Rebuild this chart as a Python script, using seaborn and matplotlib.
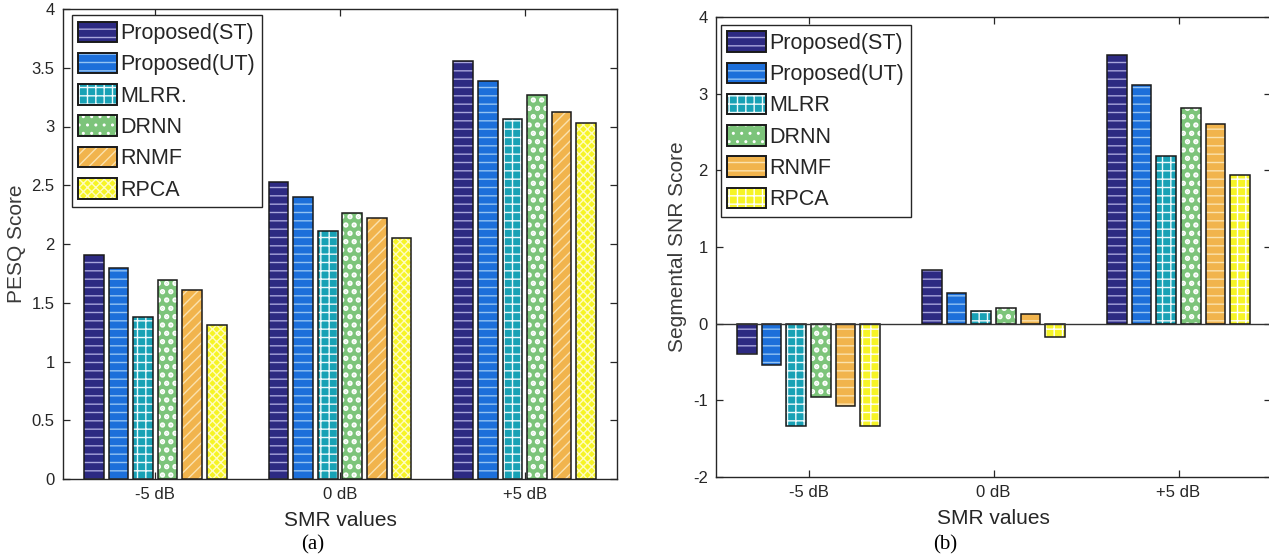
import matplotlib
matplotlib.use("Agg")
import matplotlib.pyplot as plt
import matplotlib.colors as mcolors
import seaborn as sns
import pandas as pd

# ---------------- data ----------------
smr_levels = ["-5 dB", "0 dB", "+5 dB"]
methods = ["Proposed(ST)", "Proposed(UT)", "MLRR", "DRNN", "RNMF", "RPCA"]
legend_labels_a = ["Proposed(ST)", "Proposed(UT)", "MLRR.", "DRNN", "RNMF", "RPCA"]
legend_labels_b = ["Proposed(ST)", "Proposed(UT)", "MLRR", "DRNN", "RNMF", "RPCA"]

pesq_st = [1.91, 2.53, 3.56]
pesq_ut = [1.80, 2.40, 3.39]
pesq_mlrr = [1.38, 2.11, 3.06]
pesq_drnn = [1.69, 2.26, 3.27]
pesq_rnmf = [1.61, 2.22, 3.12]
pesq_rpca = [1.31, 2.05, 3.03]

ssnr_st = [-0.39, 0.70, 3.51]
ssnr_ut = [-0.54, 0.40, 3.11]
ssnr_mlrr = [-1.33, 0.17, 2.19]
ssnr_drnn = [-0.96, 0.21, 2.81]
ssnr_rnmf = [-1.08, 0.12, 2.60]
ssnr_rpca = [-1.34, -0.18, 1.94]

pesq_ticks = [0, 0.5, 1, 1.5, 2, 2.5, 3, 3.5, 4]
ssnr_ticks = [-2, -1, 0, 1, 2, 3, 4]

# ---------------- styles ----------------
face_colors = ["#2d2a82", "#1c6fda", "#18a1b5", "#7cc47a", "#f1b44d", "#f6f426"]
hatch_colors_a = ["#a9a6dc", "#93c3f3", "#eef9fb", "#ffffff", "#fbe2ae", "#fffcc0"]
hatch_colors_b = ["#a9a6dc", "#93c3f3", "#eef9fb", "#ffffff", "#fbe2ae", "#ffffff"]
hatches_a = ["--", "--", "++", "..", "///", "xxxx"]
hatches_b = ["--", "--", "++", "..", "--", "++"]
hatch_widths = [1.0, 1.0, 1.0, 2.6, 1.0, 1.0]

sns.set_theme(style="white")
plt.rcParams["font.family"] = ["Liberation Sans", "DejaVu Sans"]
plt.rcParams["hatch.linewidth"] = 1.0

TXT = "#262626"


def set_hw(p, w):
    if hasattr(p, "set_hatch_linewidth"):
        p.set_hatch_linewidth(w)
    else:
        p._hatch_linewidth = w


def make_df(series):
    rows = []
    for m, vals in zip(methods, series):
        for lvl, v in zip(smr_levels, vals):
            rows.append({"SMR": lvl, "method": m, "score": v})
    return pd.DataFrame(rows)


df_a = make_df([pesq_st, pesq_ut, pesq_mlrr, pesq_drnn, pesq_rnmf, pesq_rpca])
df_b = make_df([ssnr_st, ssnr_ut, ssnr_mlrr, ssnr_drnn, ssnr_rnmf, ssnr_rpca])

fig = plt.figure(figsize=(12.69, 5.59), dpi=100)
ax_a = fig.add_axes([63 / 1269, 80 / 559, 554 / 1269, 470 / 559])
ax_b = fig.add_axes([716 / 1269, 82 / 559, 555 / 1269, 460 / 559])


def draw(ax, df, hatches, hcolors, labels, ticks, ylim, ylabel, leg_anchor):
    sns.barplot(data=df, x="SMR", y="score", hue="method", order=smr_levels,
                hue_order=methods, palette=face_colors, saturation=1,
                width=0.8, gap=0.2, errorbar=None, legend=False, ax=ax,
                edgecolor="#1a1a1a", linewidth=1.1, zorder=3)
    for cont, h, hc, hw in zip(ax.containers, hatches, hcolors, hatch_widths):
        for p in cont.patches:
            p.set_hatch(h)
            p.set_edgecolor("#1a1a1a")
            p._hatch_color = mcolors.to_rgba(hc)
            set_hw(p, hw)
    ax.set_xlim(-0.5, 2.5)
    ax.set_ylim(*ylim)
    ax.set_yticks(ticks)
    ax.set_yticklabels([f"{t:g}" for t in ticks])
    ax.set_xlabel("SMR values", fontsize=15, color=TXT, labelpad=6)
    ax.set_ylabel(ylabel, fontsize=15, color="#3a3a3a", labelpad=4)
    ax.tick_params(axis="both", direction="in", length=5, width=0.9,
                   color=TXT, labelcolor=TXT, labelsize=12,
                   top=True, right=True, left=True, bottom=True, pad=6)
    for s in ax.spines.values():
        s.set_visible(True)
        s.set_color(TXT)
        s.set_linewidth(1.0)
    ax.grid(False)
    handles = []
    for fc, h, hc, hw in zip(face_colors, hatches, hcolors, hatch_widths):
        hp = plt.Rectangle((0, 0), 1, 1, facecolor=fc, hatch=h,
                           edgecolor=hc, linewidth=0)
        set_hw(hp, hw)
        op = plt.Rectangle((0, 0), 1, 1, fill=False, edgecolor="#1a1a1a",
                           linewidth=1.4)
        handles.append((hp, op))
    leg = ax.legend(handles, labels, loc="upper left", bbox_to_anchor=leg_anchor,
                    borderaxespad=0, fontsize=15.5, handlelength=1.8,
                    handleheight=1.1, labelspacing=0.40, handletextpad=0.15,
                    borderpad=0.3, fancybox=False, framealpha=1,
                    edgecolor=TXT)
    leg.get_frame().set_linewidth(1.0)
    leg.set_zorder(10)
    return ax


draw(ax_a, df_a, hatches_a, hatch_colors_a, legend_labels_a, pesq_ticks,
     (0, 4), "PESQ Score", (0.016, 0.987))
draw(ax_b, df_b, hatches_b, hatch_colors_b, legend_labels_b, ssnr_ticks,
     (-2, 4), "Segmental SNR Score", (0.009, 0.983))
ax_b.axhline(0, color="#333333", linewidth=1.0, zorder=4)

fig.text(313 / 1269, 1 - 545 / 559, "(a)", ha="center", va="center",
         fontsize=15, family=["Liberation Serif", "DejaVu Serif"], color="black")
fig.text(945 / 1269, 1 - 545 / 559, "(b)", ha="center", va="center",
         fontsize=15, family=["Liberation Serif", "DejaVu Serif"], color="black")

fig.savefig("out.png", dpi=100)
